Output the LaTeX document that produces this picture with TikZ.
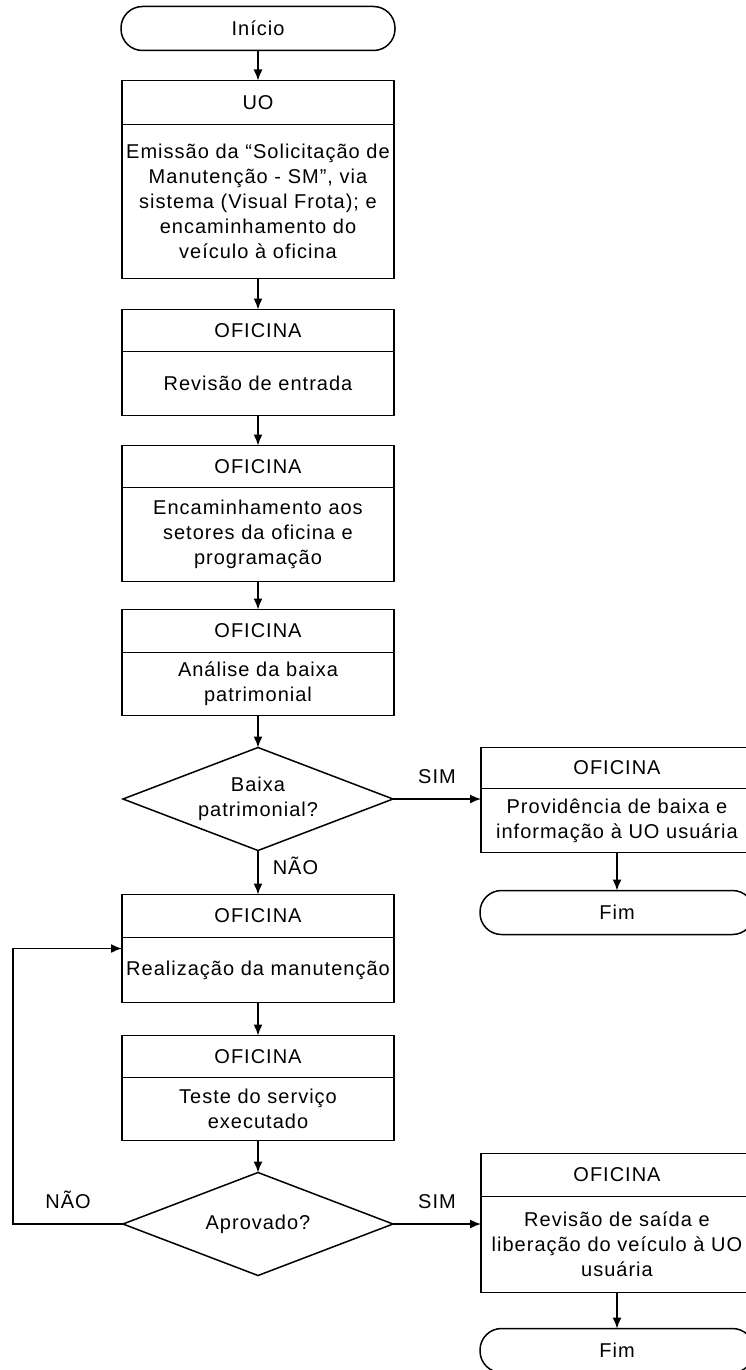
\documentclass[tikz,border=0pt]{standalone}
\usepackage{fontspec}
\setmainfont{Liberation Sans}[LetterSpace=5]
\usetikzlibrary{arrows.meta,positioning,shapes.geometric}

\begin{document}
\begin{tikzpicture}[x=1pt,y=1pt,>={Latex[length=11pt,width=9pt]},line width=1.5pt,font=\fontsize{20}{25}\selectfont]
	\tikzstyle{term} = [draw, rectangle, rounded corners=21.5pt, minimum width=274pt, minimum height=44pt, outer sep=0pt]
	\tikzstyle{blockhead} = [draw, rectangle, minimum width=272pt, inner sep=0pt, outer sep=0pt]
	\tikzstyle{blockbody} = [draw, rectangle, minimum width=272pt, text width=268pt, align=center, inner sep=2pt, outer sep=0pt]
	\tikzstyle{decision} = [draw, diamond, aspect=2.6, minimum width=270pt, minimum height=103pt, inner sep=0pt, outer sep=0pt, align=center]
	\tikzstyle{lbl} = [inner sep=0pt]
	
	\useasboundingbox (0,0) rectangle (745,-1370);
	
	\node [term] (inicio) at (258,-28.5) {Início};
	\node [blockhead, minimum height=44pt, below=30pt of inicio] (uoh) {UO};
	\node [blockbody, minimum height=154pt, below=0pt of uoh] (uob) {Emissão da “Solicitação de\\Manutenção - SM”, via\\sistema (Visual Frota); e\\encaminhamento do\\veículo à oficina};
	\node [blockhead, minimum height=42pt, below=31pt of uob] (revh) {OFICINA};
	\node [blockbody, minimum height=64pt, below=0pt of revh] (revb) {Revisão de entrada};
	\node [blockhead, minimum height=42pt, below=30pt of revb] (ench) {OFICINA};
	\node [blockbody, minimum height=94pt, below=0pt of ench] (encb) {Encaminhamento aos\\setores da oficina e\\programação};
	\node [blockhead, minimum height=43pt, below=28pt of encb] (analh) {OFICINA};
	\node [blockbody, minimum height=63pt, below=0pt of analh] (analb) {Análise da baixa\\patrimonial};
	\node [decision, below=32pt of analb] (baixa) {Baixa\\patrimonial?};
	\node [blockhead, minimum height=43pt, below=44pt of baixa] (realh) {OFICINA};
	\node [blockbody, minimum height=65pt, below=0pt of realh] (realb) {Realização da manutenção};
	\node [blockhead, minimum height=42pt, below=33pt of realb] (testh) {OFICINA};
	\node [blockbody, minimum height=63pt, below=0pt of testh] (testb) {Teste do serviço\\executado};
	\node [decision, below=32pt of testb] (aprovado) {Aprovado?};
	
	\node [blockhead, minimum height=41pt, anchor=north] (provh) at ([xshift=359pt]baixa.north) {OFICINA};
	\node [blockbody, minimum height=64pt, below=0pt of provh] (provb) {Providência de baixa e\\informação à UO usuária};
	\node [term, below=38pt of provb] (fim1) {Fim};
	
	\node [blockhead, minimum height=43pt, anchor=north] (libh) at ([xshift=359pt,yshift=19pt]aprovado.north) {OFICINA};
	\node [blockbody, minimum height=96pt, below=0pt of libh] (libb) {Revisão de saída e\\liberação do veículo à UO\\usuária};
	\node [term, below=36pt of libb] (fim2) {Fim};
	
	\coordinate (loop) at ([xshift=-109pt,yshift=-11pt]realb.north west);
	
	\draw [->] (inicio) -- (uoh);
	\draw [->] (uob) -- (revh);
	\draw [->] (revb) -- (ench);
	\draw [->] (encb) -- (analh);
	\draw [->] (analb) -- (baixa);
	\draw [->] (baixa.east) -- node[lbl, above=15pt]{SIM} (baixa.east -| provb.west);
	\draw [->] (provb) -- (fim1);
	\draw [->] (baixa.south) -- node[lbl, right=14pt, pos=0.35]{NÃO} (realh);
	\draw [->] (realb) -- (testh);
	\draw [->] (testb) -- (aprovado);
	\draw [->] (aprovado.east) -- node[lbl, above=15pt]{SIM} (aprovado.east -| libb.west);
	\draw [->] (libb) -- (fim2);
	\draw [->] (aprovado.west) -| node[lbl, above=15pt, pos=0.25]{NÃO} (loop) -- (loop -| realb.west);
	
\end{tikzpicture}
\end{document}
